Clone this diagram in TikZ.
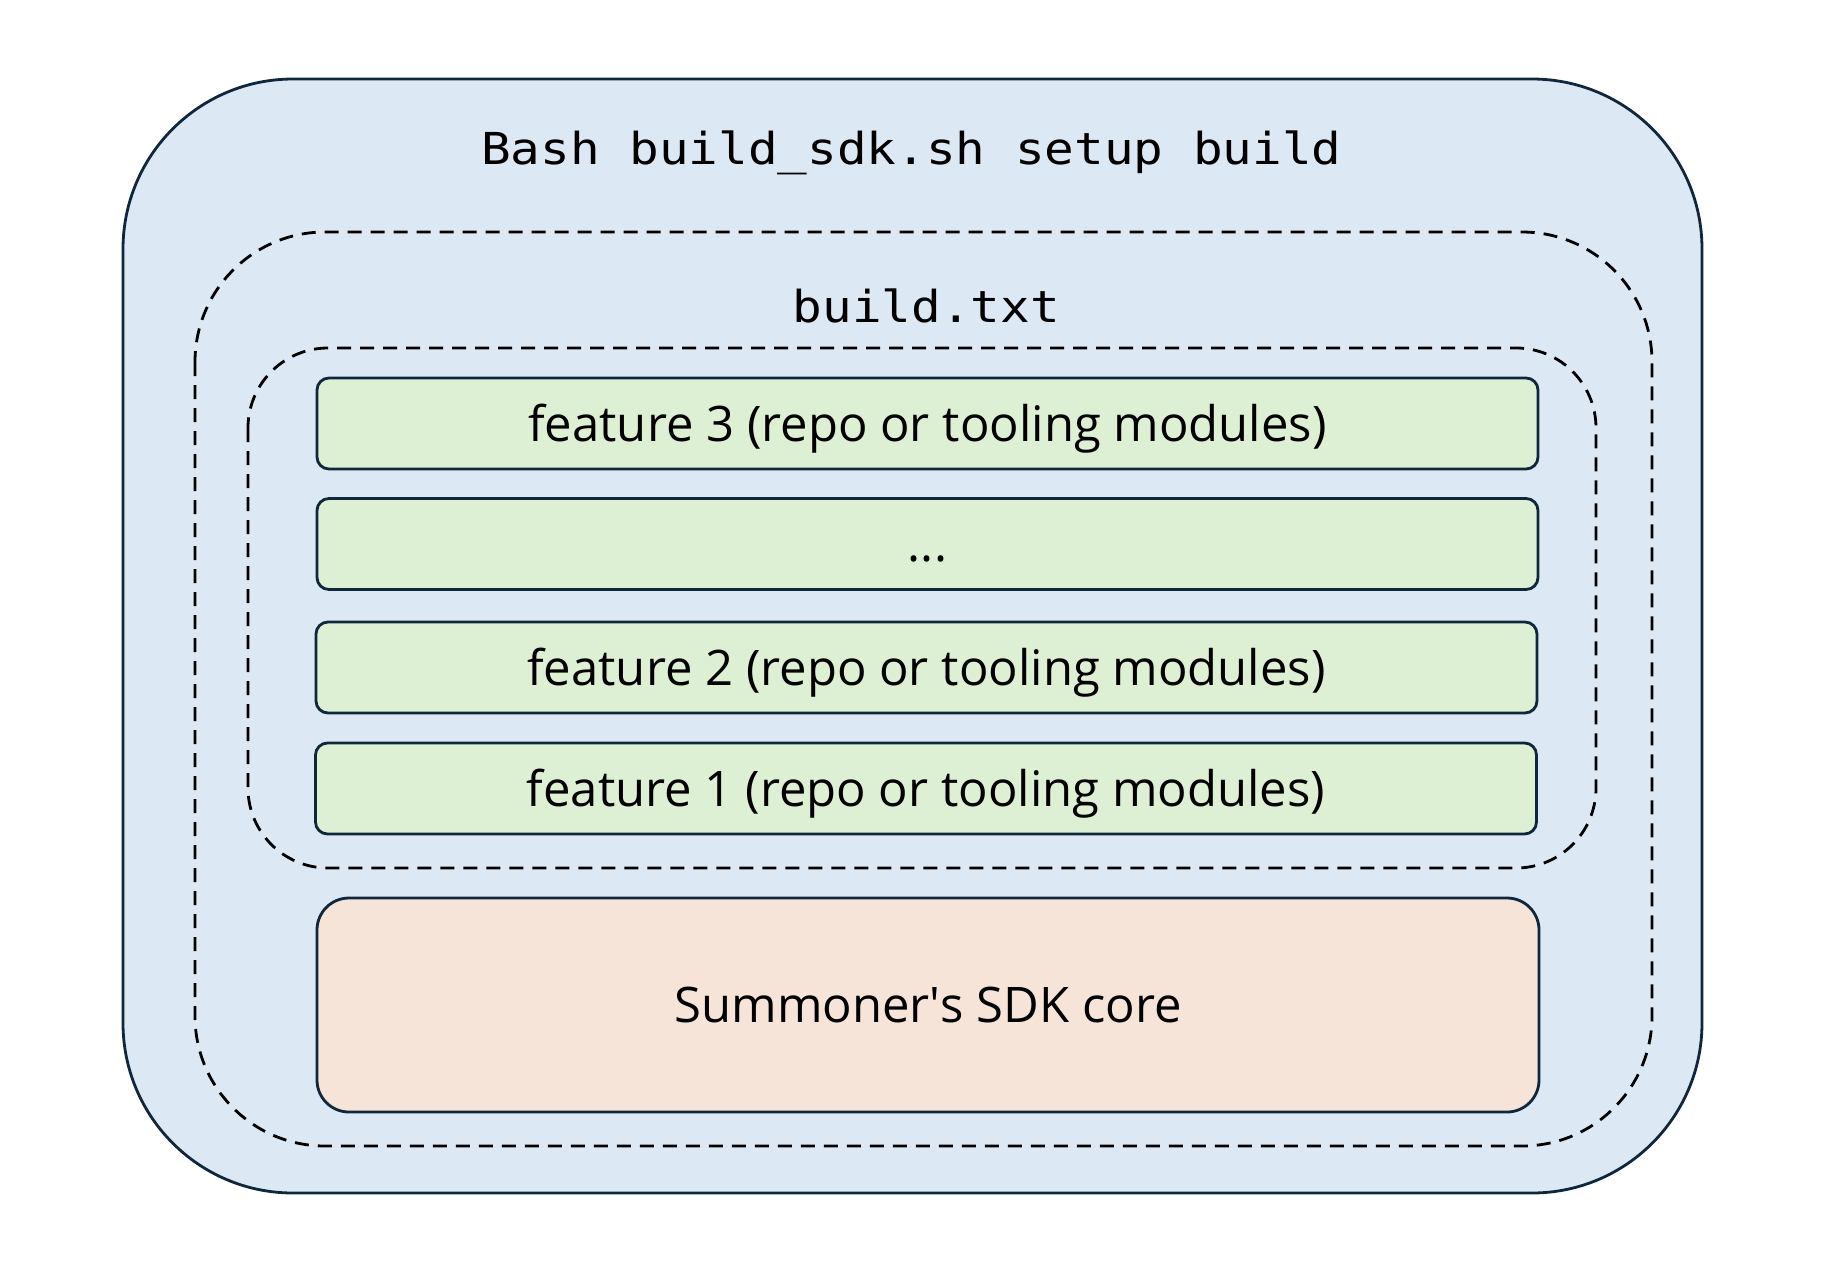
\documentclass[tikz,border=0pt]{standalone}
\usepackage{fontspec}
\setmainfont{Open Sans}
\newfontfamily\codefont[FakeStretch=1.12]{DejaVu Sans Mono}
\definecolor{navy}{HTML}{10263A}
\definecolor{bluefill}{HTML}{DDE8F5}
\definecolor{greenfill}{HTML}{DEF0D4}
\definecolor{peachfill}{HTML}{F6E4D9}
\tikzset{
  outerbox/.style={draw=navy, fill=bluefill, line width=1.4pt, rounded corners=85pt},
  dashbox/.style={draw=black, line width=1.4pt, dash pattern=on 7pt off 4.5pt},
  featbox/.style={draw=navy, fill=greenfill, line width=1.4pt, rounded corners=6pt,
    minimum width=610.5pt, minimum height=45.5pt, inner sep=0pt,
    font=\fontsize{24.5}{28}\selectfont, text height=17.5pt, text depth=0pt},
  corebox/.style={draw=navy, fill=peachfill, line width=1.4pt, rounded corners=16pt,
    minimum width=611pt, minimum height=107pt, inner sep=0pt,
    font=\fontsize{24.5}{28}\selectfont, text height=17.5pt, text depth=0pt},
  codetitle/.style={anchor=base, inner sep=0pt, font=\codefont\fontsize{22}{26}\selectfont}
}
\begin{document}
\begin{tikzpicture}[x=0.5pt,y=-0.5pt]
\useasboundingbox (0,0) rectangle (1826,1270);
\path[outerbox] (123,79) rectangle (1702,1193);
\path[dashbox, rounded corners=65pt] (195,232) rectangle (1652,1146);
\path[dashbox, rounded corners=40pt] (248,348) rectangle (1596,868);
\node[codetitle] (bash) at (911.5,164) {Bash build\_sdk.sh setup build};
\node[codetitle] (buildtxt) at (926.5,322) {build.txt};
\node[featbox] (f3) at (927.5,423.5) {feature 3 (repo or tooling modules)};
\node[featbox] (fdots) at (927.5,544) {...};
\node[featbox] (f2) at (926.5,667.5) {feature 2 (repo or tooling modules)};
\node[featbox] (f1) at (926,788.5) {feature 1 (repo or tooling modules)};
\node[corebox] (core) at (928,1005) {Summoner\textquotesingle s SDK core};
\end{tikzpicture}
\end{document}
